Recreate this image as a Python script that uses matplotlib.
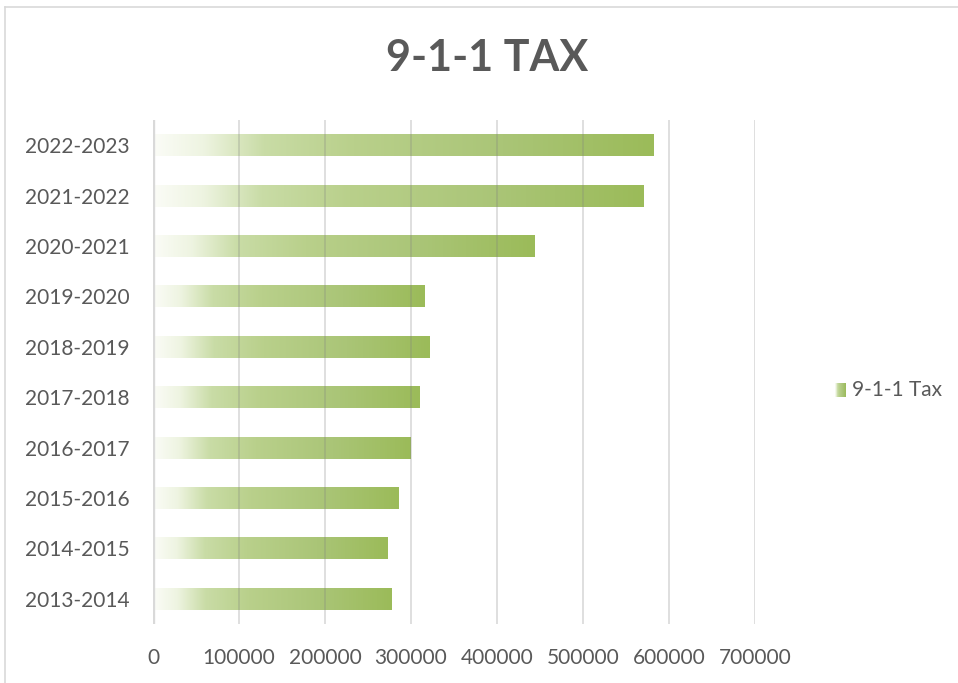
import numpy as np
import matplotlib
matplotlib.use("Agg")
import matplotlib.pyplot as plt
from matplotlib.colors import LinearSegmentedColormap
from matplotlib.lines import Line2D

categories = ["2013-2014", "2014-2015", "2015-2016", "2016-2017", "2017-2018",
              "2018-2019", "2019-2020", "2020-2021", "2021-2022", "2022-2023"]
values = [277000, 273000, 286000, 300000, 310000, 321000, 316000, 444000, 570000, 582000]
xticks = [0, 100000, 200000, 300000, 400000, 500000, 600000, 700000]
series_name = "9-1-1 Tax"
title = "9-1-1 TAX"

W, H = 958, 683
plt.rcParams['font.family'] = ['Lato', 'DejaVu Sans']
fig = plt.figure(figsize=(W / 100, H / 100), dpi=100)

cmap = LinearSegmentedColormap.from_list("grad", [
    (0.0, "#fbfcf7"), (0.1, "#eef4e1"), (0.22, "#c9dca6"),
    (0.4, "#b9d08b"), (0.7, "#aac577"), (1.0, "#9bbb59")])
grad = np.linspace(0, 1, 256).reshape(1, -1)

left, right, top, bottom = 153, 755, 120, 624
ax = fig.add_axes([left / W, 1 - bottom / H, (right - left) / W, (bottom - top) / H])
ax.set_xlim(0, 700000)
ax.set_ylim(-0.5, len(categories) - 0.5)

bh = 0.436
for i, v in enumerate(values):
    ax.imshow(grad, cmap=cmap, aspect='auto', extent=(0, v, i - bh / 2, i + bh / 2),
              interpolation='bilinear', zorder=1)

for t in xticks[1:]:
    ax.axvline(t, color="#808080", alpha=0.3, lw=1.2, zorder=3)
ax.axvline(0, color="#d9d9d9", lw=2.4, zorder=3)

for s in ax.spines.values():
    s.set_visible(False)
ax.set_xticks(xticks)
ax.set_xticklabels([str(t) for t in xticks])
ax.set_yticks(range(len(categories)))
ax.set_yticklabels(categories)
ax.tick_params(axis='x', length=0, pad=17, labelsize=15, labelcolor="#595959")
ax.tick_params(axis='y', length=0, pad=17, labelsize=15, labelcolor="#595959")

fig.text(487 / W, 1 - 58 / H, title, ha='center', va='center', fontsize=31,
         fontweight='bold', color="#595959")

# legend
lax = fig.add_axes([835 / W, 1 - 397 / H, 11 / W, 14 / H])
lax.imshow(grad, cmap=cmap, aspect='auto', interpolation='bilinear')
lax.axis('off')
fig.text(852 / W, 1 - 390 / H, series_name, ha='left', va='center', fontsize=15,
         color="#595959")

# chart frame
fig.add_artist(Line2D([5 / W, 1], [1 - 7 / H, 1 - 7 / H], transform=fig.transFigure,
                      color="#d9d9d9", lw=1.2))
fig.add_artist(Line2D([5 / W, 5 / W], [1 - 7 / H, 0], transform=fig.transFigure,
                      color="#d9d9d9", lw=1.2))

fig.savefig("out.png", dpi=100)
